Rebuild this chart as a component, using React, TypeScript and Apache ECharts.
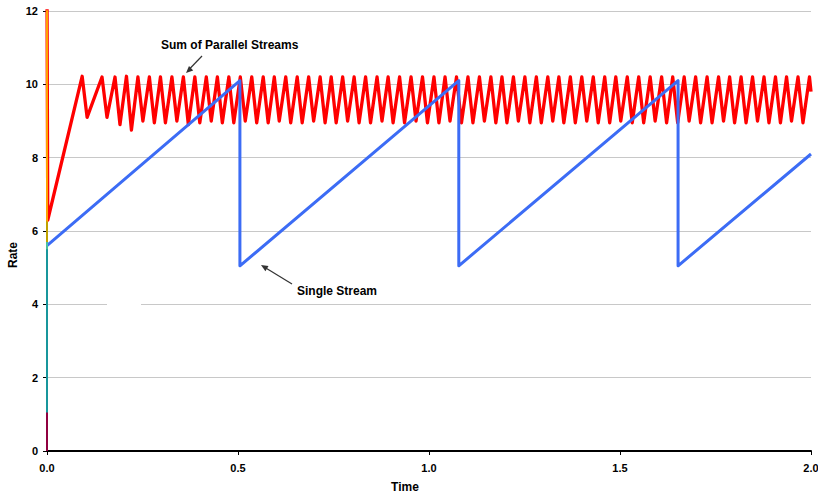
import React, { useEffect, useRef } from "react";
import * as echarts from "echarts";

// Sum of parallel streams: [time, rate]
const parallelSum: [number, number][] = [
  [0, 12.5], [0.002, 6.3], [0.092, 10.22], [0.105, 9.1], [0.144, 10.2], [0.157, 9.1],
  [0.178, 10.2], [0.191, 8.9], [0.208, 10.22], [0.221, 8.75],
  [0.238, 10.2], [0.251, 9.0], [0.268, 10.2], [0.281, 8.95], [0.297, 10.2], [0.31, 8.95],
  [0.327, 10.2], [0.34, 9.0], [0.357, 10.2], [0.37, 8.9], [0.387, 10.2], [0.4, 8.95],
  [0.417, 10.2], [0.43, 9.0], [0.446, 10.2], [0.459, 8.95], [0.476, 10.2], [0.489, 8.95],
  [0.506, 10.2], [0.519, 9.0], [0.536, 10.2], [0.549, 8.95], [0.566, 10.2], [0.579, 8.95],
  [0.595, 10.2], [0.608, 9.0], [0.625, 10.2], [0.638, 8.95], [0.655, 10.2], [0.668, 8.95],
  [0.685, 10.2], [0.698, 9.0], [0.715, 10.2], [0.728, 8.95], [0.744, 10.2], [0.757, 8.95],
  [0.774, 10.2], [0.787, 9.0], [0.804, 10.2], [0.817, 8.95], [0.834, 10.2], [0.847, 8.95],
  [0.864, 10.2], [0.877, 9.0], [0.893, 10.2], [0.906, 8.95], [0.923, 10.2], [0.936, 8.95],
  [0.953, 10.2], [0.966, 9.0], [0.983, 10.2], [0.996, 8.95], [1.013, 10.2], [1.026, 8.95],
  [1.042, 10.2], [1.055, 9.0], [1.072, 10.2], [1.085, 8.95], [1.102, 10.2], [1.115, 8.95],
  [1.132, 10.2], [1.145, 9.0], [1.162, 10.2], [1.175, 8.95], [1.191, 10.2], [1.204, 8.95],
  [1.221, 10.2], [1.234, 9.0], [1.251, 10.2], [1.264, 8.95], [1.281, 10.2], [1.294, 8.95],
  [1.311, 10.2], [1.324, 9.0], [1.34, 10.2], [1.353, 8.95], [1.37, 10.2], [1.383, 8.95],
  [1.4, 10.2], [1.413, 9.0], [1.43, 10.2], [1.443, 8.95], [1.46, 10.2], [1.473, 8.95],
  [1.489, 10.2], [1.502, 9.0], [1.519, 10.2], [1.532, 8.95], [1.549, 10.2], [1.562, 8.95],
  [1.579, 10.2], [1.592, 9.0], [1.609, 10.2], [1.622, 8.95], [1.638, 10.2], [1.651, 8.95],
  [1.668, 10.2], [1.681, 9.0], [1.698, 10.2], [1.711, 8.95], [1.728, 10.2], [1.741, 8.95],
  [1.758, 10.2], [1.771, 9.0], [1.787, 10.2], [1.8, 8.95], [1.817, 10.2], [1.83, 8.95],
  [1.847, 10.2], [1.86, 9.0], [1.877, 10.2], [1.89, 8.95], [1.907, 10.2], [1.92, 8.95],
  [1.936, 10.2], [1.949, 9.0], [1.966, 10.2], [1.979, 8.95], [1.996, 10.2], [2.0, 9.8],
];

// Single stream: [time, rate]
const singleStream: [number, number][] = [
  [0, 5.6], [0.505, 10.1], [0.505, 5.05], [1.078, 10.1], [1.078, 5.05],
  [1.652, 10.1], [1.652, 5.05], [2.0, 8.1],
];

// Start-up spikes of the individual streams at time 0
const spikeYellow: [number, number][] = [[0, 5.5], [0, 12.5]];
const spikeCyan: [number, number][] = [[0, 0], [0, 5.7]];
const spikeMaroon: [number, number][] = [[0, 0], [0, 1.05]];

const xTicks = [0, 0.5, 1.0, 1.5, 2.0];
const yTicks = [0, 2, 4, 6, 8, 10, 12];

const FONT = "'Liberation Sans', Arial, sans-serif";

export default function App() {
  const ref = useRef<HTMLDivElement>(null);
  useEffect(() => {
    document.body.style.margin = "0";
    const chart = echarts.init(ref.current!, null, { renderer: "svg" });
    const lineSeries = (data: [number, number][], color: string, width: number, z = 2) => ({
      type: "line",
      data,
      showSymbol: false,
      symbol: "none",
      lineStyle: { color, width, join: "round" },
      itemStyle: { color },
      z,
      clip: true,
    });
    chart.setOption({
      animation: false,
      grid: { left: 47, right: 7, top: 11, bottom: 45, containLabel: false, outerBoundsMode: "none" },
      xAxis: {
        type: "value",
        min: xTicks[0],
        max: xTicks[xTicks.length - 1],
        interval: 0.5,
        axisLine: { show: true, lineStyle: { color: "#000", width: 2 } },
        axisTick: { show: true, length: 4, lineStyle: { color: "#000" } },
        axisLabel: {
          fontFamily: FONT, fontWeight: "bold", fontSize: 11, color: "#000", margin: 11,
          formatter: (v: number) => v.toFixed(1),
        },
        splitLine: { show: false },
      },
      yAxis: {
        type: "value",
        min: yTicks[0],
        max: yTicks[yTicks.length - 1],
        interval: 2,
        axisLine: { show: true, lineStyle: { color: "#000", width: 2 } },
        axisTick: { show: true, length: 4, lineStyle: { color: "#000" } },
        axisLabel: { fontFamily: FONT, fontWeight: "bold", fontSize: 11, color: "#000", margin: 9 },
        splitLine: { show: true, lineStyle: { color: "#c8c8c8", width: 1 } },
      },
      series: [
        lineSeries(parallelSum, "#ff0000", 3.3, 2),
        lineSeries(singleStream, "#3c6cf5", 3, 3),
        lineSeries(spikeYellow, "#ffd800", 1.5, 4),
        lineSeries(spikeCyan, "#20c8d0", 1.5, 4),
        lineSeries(spikeMaroon, "#900040", 2, 5),
      ],
      graphic: [
        { type: "rect", shape: { x: 107, y: 302, width: 34, height: 4 }, style: { fill: "#fff" }, z: 10 },
        {
          type: "text", x: 405, y: 487, z: 20,
          style: { text: "Time", font: `bold 12px ${FONT}`, fill: "#000", align: "center", verticalAlign: "middle" },
        },
        {
          type: "text", x: 13, y: 255, rotation: Math.PI / 2, z: 20,
          style: { text: "Rate", font: `bold 12px ${FONT}`, fill: "#000", align: "center", verticalAlign: "middle" },
        },
        {
          type: "text", x: 161, y: 45, z: 20,
          style: { text: "Sum of Parallel Streams", font: `bold 12px ${FONT}`, fill: "#000", verticalAlign: "middle" },
        },
        { type: "line", shape: { x1: 202, y1: 56, x2: 189, y2: 69.5 }, style: { stroke: "#333", lineWidth: 1.2 }, z: 20 },
        { type: "polygon", shape: { points: [[186, 73], [193.2, 70.4], [189, 66]] }, style: { fill: "#333" }, z: 20 },
        {
          type: "text", x: 297, y: 291, z: 20,
          style: { text: "Single Stream", font: `bold 12px ${FONT}`, fill: "#000", verticalAlign: "middle" },
        },
        { type: "line", shape: { x1: 292, y1: 284, x2: 265, y2: 267.5 }, style: { stroke: "#333", lineWidth: 1.2 }, z: 20 },
        { type: "polygon", shape: { points: [[261, 265], [268.5, 266.1], [265.4, 271.2]] }, style: { fill: "#333" }, z: 20 },
      ],
    });
    return () => chart.dispose();
  }, []);
  return <div ref={ref} style={{ width: 818, height: 496 }} />;
}
